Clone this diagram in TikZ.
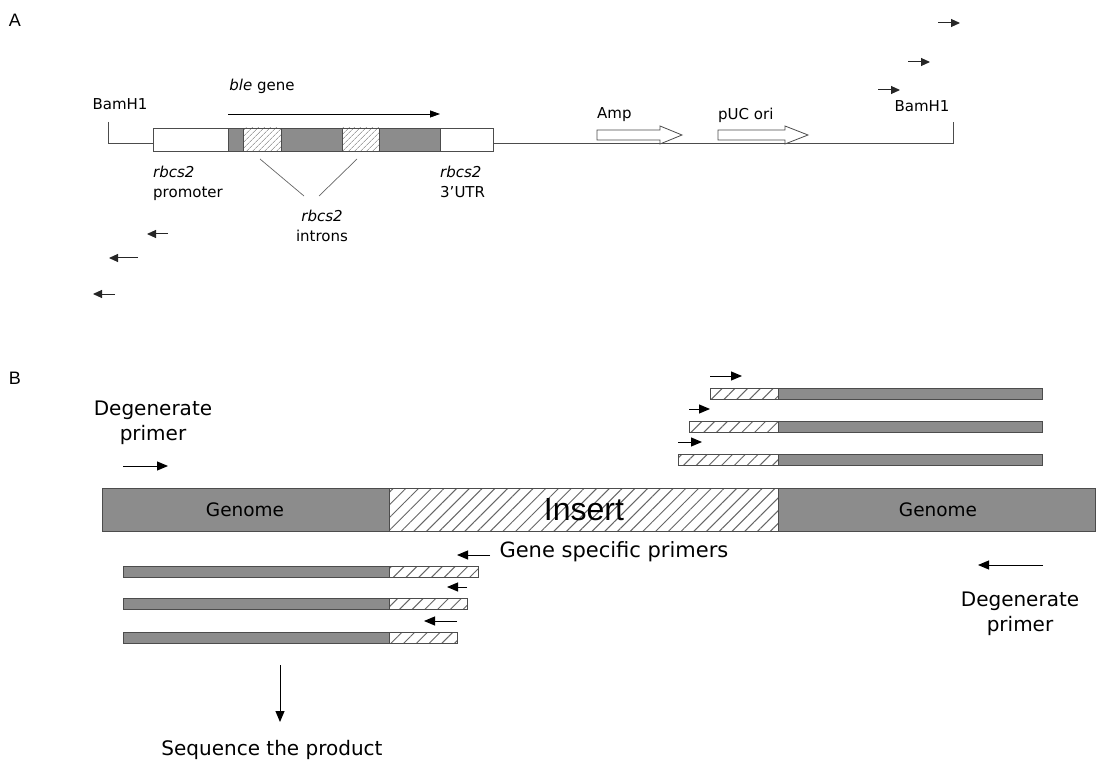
\documentclass[tikz,border=0pt]{standalone}
\usepackage{fontspec}
\setmainfont{DejaVu Sans}
\newfontfamily\arialfont{Liberation Sans}
\usetikzlibrary{arrows.meta,patterns.meta}
\begin{document}
\begin{tikzpicture}[x=1pt,y=-1pt,
  font=\fontsize{15}{20}\selectfont,
  seg/.style={draw=black!70, line width=0.8pt},
  grayseg/.style={seg, fill=black!45},
  whiteseg/.style={seg, fill=white},
  hatchA/.style={seg, pattern={Lines[angle=45,distance=4pt,line width=0.6pt]}, pattern color=black!55},
  hatchB/.style={seg, pattern={Lines[angle=45,distance=9pt,line width=1pt]}, pattern color=black!60},
  primer/.style={-{Triangle[length=9pt,width=8pt]}, line width=1pt, black!85},
  bigprimer/.style={-{Triangle[length=11pt,width=9pt]}, line width=1pt},
  openarrow/.style={draw=black!70, line width=0.8pt, fill=white},
  panel/.style={font=\arialfont\fontsize{18}{20}\selectfont},
  lbl/.style={font=\fontsize{20}{25}\selectfont, align=center}]
\useasboundingbox (0,0) rectangle (1097,767);

% Panel A
\node[panel] (A) at (15,20) {A};
\draw[seg] (108,122) -- (108,143) -- (153,143);
\draw[seg] (493,143) -- (953,143) -- (953,122);
\node (bamleft) at (120,104) {BamH1};
\node (bamright) at (922,106) {BamH1};
% ble cassette
\draw[whiteseg] (153,128) rectangle (228,151);
\draw[grayseg] (228,128) rectangle (243,151);
\draw[hatchA] (243,128) rectangle (281,151);
\draw[grayseg] (281,128) rectangle (342,151);
\draw[hatchA] (342,128) rectangle (379,151);
\draw[grayseg] (379,128) rectangle (440,151);
\draw[whiteseg] (440,128) rectangle (493,151);
\node (ble) at (262,86) {\textit{ble} gene};
\draw[-{Triangle[length=10pt,width=7pt]}, line width=0.8pt] (228,114) -- (440,114);
\draw[black!60, line width=0.7pt] (260,159) -- (304,196);
\draw[black!60, line width=0.7pt] (357,159) -- (319,196);
\node[anchor=north west, align=left, inner sep=0pt] (prom) at (153,166) {\textit{rbcs2}\\promoter};
\node[anchor=north, align=center, inner sep=0pt] (intr) at (322,210) {\textit{rbcs2}\\introns};
\node[anchor=north west, align=left, inner sep=0pt] (utr) at (440,166) {\textit{rbcs2}\\3'UTR};
% Amp and ori
\draw[openarrow] (597,130) -- (660,130) -- (660,126) -- (682,135) -- (660,144) -- (660,140) -- (597,140) -- cycle;
\draw[openarrow] (718,130) -- (785,130) -- (785,126) -- (808,135) -- (785,144) -- (785,140) -- (718,140) -- cycle;
\node[anchor=west, inner sep=0pt] (amp) at (597,115) {Amp};
\node[anchor=west, inner sep=0pt] (ori) at (718,115) {pUC ori};
% primers A
\draw[primer] (938,23) -- (960,23);
\draw[primer] (908,62) -- (930,62);
\draw[primer] (878,90) -- (900,90);
\draw[primer] (168,234) -- (147,234);
\draw[primer] (138,258) -- (109,258);
\draw[primer] (115,294) -- (93,294);

% Panel B
\node[panel] (B) at (15,378) {B};
\draw[grayseg] (102,488) rectangle (389,531);
\draw[hatchB] (389,488) rectangle (778,531);
\draw[grayseg] (778,488) rectangle (1095,531);
\node[lbl, font=\fontsize{18.5}{22}\selectfont] (genl) at (245,510) {Genome};
\node[font=\arialfont\fontsize{32}{34}\selectfont] (ins) at (584,510) {Insert};
\node[lbl, font=\fontsize{18.5}{22}\selectfont] (genr) at (938,510) {Genome};
% reads right
\foreach \xa/\ya/\xp in {710/388/742, 689/421/710, 678/454/702} {
  \draw[hatchB] (\xa,\ya) rectangle (778,\ya+11);
  \draw[grayseg] (778,\ya) rectangle (1042,\ya+11);
  \draw[bigprimer] (\xa,\ya-12) -- (\xp,\ya-12);
}
% reads left
\foreach \xb/\ya/\xs/\xe in {478/566/490/457, 467/598/467/447, 457/632/457/424} {
  \draw[grayseg] (123,\ya) rectangle (389,\ya+11);
  \draw[hatchB] (389,\ya) rectangle (\xb,\ya+11);
  \draw[bigprimer] (\xs,\ya-11) -- (\xe,\ya-11);
}
\node[lbl, anchor=west, font=\fontsize{21}{25}\selectfont] (gsp) at (496,552) {Gene specific primers};
\node[lbl] (degl) at (153,423) {Degenerate\\primer};
\draw[bigprimer] (123,466) -- (168,466);
\draw[bigprimer] (1043,565) -- (978,565);
\node[lbl] (degr) at (1020,614) {Degenerate\\primer};
\node[lbl] (seq) at (272,750) {Sequence the product};
\draw[bigprimer] (280,665) -- (280,722);
\end{tikzpicture}
\end{document}
